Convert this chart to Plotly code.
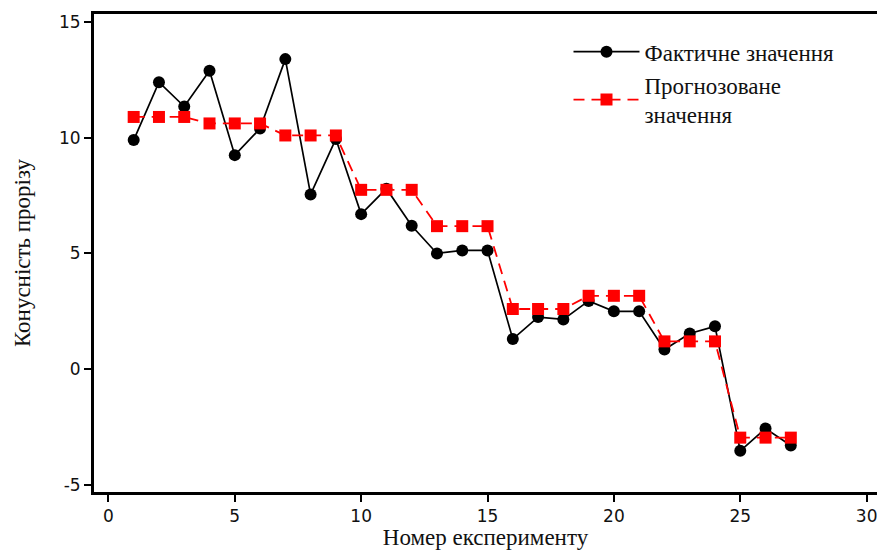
import plotly.graph_objects as go

experiment = list(range(1, 28))
actual = [9.9, 12.4, 11.35, 12.9, 9.25, 10.4, 13.4, 7.55, 9.95,
          6.7, 7.8, 6.2, 5.0, 5.13, 5.13, 1.3, 2.25, 2.15, 2.95,
          2.5, 2.5, 0.85, 1.54, 1.85, -3.53, -2.57, -3.3]
predicted = [10.9, 10.9, 10.9, 10.62, 10.62, 10.62, 10.1, 10.1, 10.1,
             7.75, 7.75, 7.75, 6.18, 6.18, 6.18, 2.6, 2.6, 2.6,
             3.17, 3.17, 3.17, 1.2, 1.2, 1.2, -2.96, -2.96, -2.96]

x_ticks = [0, 5, 10, 15, 20, 25, 30]
y_ticks = [-5, 0, 5, 10, 15]
y_tick_labels = ["-5", "0", "5", "10", "15"]

serif = "Liberation Serif, Times New Roman, serif"
sans = "DejaVu Sans, Verdana, sans-serif"

fig = go.Figure()
fig.add_trace(go.Scatter(
    x=experiment, y=actual, mode="lines+markers",
    name="Фактичне значення",
    line=dict(color="black", width=1.7),
    marker=dict(symbol="circle", size=12, color="black"),
))
fig.add_trace(go.Scatter(
    x=experiment, y=predicted, mode="lines+markers",
    name="Прогнозоване<br>значення",
    line=dict(color="#ff0000", width=1.8, dash="11px,7px"),
    marker=dict(symbol="square", size=12, color="#ff0000"),
))

fig.update_layout(
    width=877, height=550,
    margin=dict(l=94, r=0, t=14, b=58),
    paper_bgcolor="white", plot_bgcolor="white",
    showlegend=True,
    legend=dict(
        x=0.606, y=0.966, xanchor="left", yanchor="top",
        font=dict(family=serif, size=23, color="#111"),
        bgcolor="rgba(0,0,0,0)", itemwidth=66, tracegroupgap=0,
    ),
)
fig.update_xaxes(
    range=[-0.57, 30.41], tickvals=x_ticks, automargin=False,
    ticklabeloverflow="allow",
    showgrid=False, zeroline=False,
    showline=True, linecolor="black", linewidth=3, mirror=True,
    ticks="outside", ticklen=7, tickwidth=2, tickcolor="black",
    tickfont=dict(family=sans, size=17, color="#111"),
    title=dict(text="Номер експерименту", font=dict(family=serif, size=23, color="#111"), standoff=0),
)
fig.update_yaxes(
    range=[-5.31, 15.35], tickvals=y_ticks, ticktext=y_tick_labels, automargin=False,
    showgrid=False, zeroline=False,
    showline=True, linecolor="black", linewidth=3, mirror=False,
    ticks="outside", ticklen=7, tickwidth=2, tickcolor="black",
    tickfont=dict(family=sans, size=17, color="#111"),
    title=dict(text="Конусність прорізу", font=dict(family=serif, size=23, color="#111"), standoff=22),
)

fig.write_html(
    "out.html",
    config={"displayModeBar": False},
    post_script="document.body.style.margin='0';document.body.style.overflow='hidden';",
)
